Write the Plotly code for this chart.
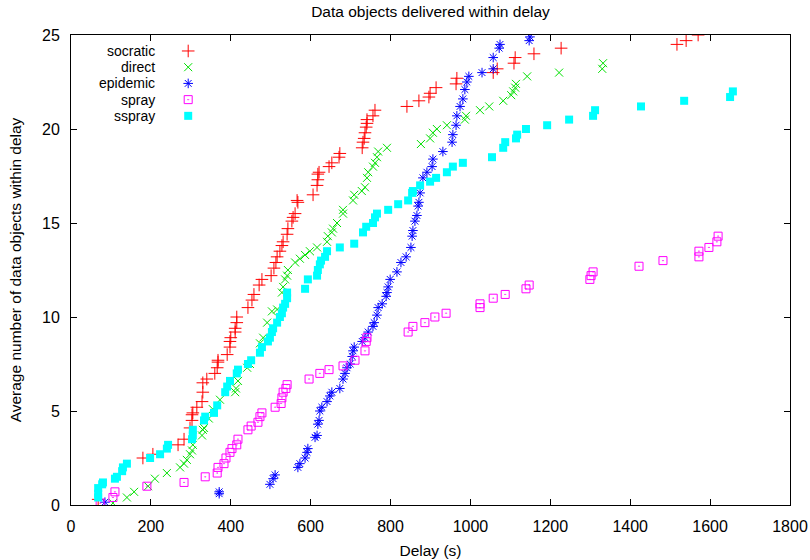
import plotly.graph_objects as go

# ---- data (delay in s, average number of data objects) ----
socratic_x = [68, 180, 205, 268, 283, 298, 303, 303, 305, 315, 328, 330, 330, 340, 360, 366, 368, 368,
              391, 398, 398, 400, 411, 411, 415, 415, 443, 453, 458, 471, 478, 501, 508, 513, 516, 523,
              528, 531, 541, 543, 553, 556, 561, 568, 566, 606, 616, 618, 618, 621, 646, 653, 671, 673,
              729, 731, 734, 736, 739, 741, 741, 756, 761, 841, 871, 896, 899, 914, 964, 966, 1057,
              1067, 1109, 1112, 1159, 1227, 1517, 1540, 1570]
socratic_y = [0.3, 2.5, 2.7, 3.2, 3.5, 4.1, 4.5, 4.8, 4.9, 5.2, 5.5, 6.0, 6.5, 6.7, 7.0, 7.3, 7.6, 7.7,
              8.0, 8.4, 8.7, 8.9, 9.2, 9.4, 9.7, 10.0, 10.5, 10.9, 11.2, 11.7, 12.0, 12.2, 12.6, 12.9,
              13.2, 13.5, 13.8, 14.0, 14.4, 14.7, 15.1, 15.3, 15.5, 16.1, 16.2, 16.5, 17.0, 17.3, 17.6,
              17.7, 18.0, 18.2, 18.5, 18.7, 19.0, 19.3, 19.5, 19.8, 20.1, 20.3, 20.5, 20.7, 21.0, 21.2,
              21.5, 21.7, 21.9, 22.2, 22.4, 22.7, 23.0, 23.2, 23.5, 23.8, 24.0, 24.3, 24.5, 24.7, 25.0]

direct_x = [105, 140, 158, 193, 210, 240, 273, 283, 290, 298, 303, 305, 328, 330, 333, 345, 355, 373,
            411, 413, 418, 441, 448, 473, 481, 491, 503, 516, 528, 531, 536, 541, 543, 561, 573, 586,
            598, 616, 641, 643, 653, 656, 666, 681, 681, 706, 709, 728, 736, 741, 744, 756, 761, 766,
            769, 791, 876, 899, 906, 916, 941, 986, 989, 1024, 1047, 1082, 1102, 1107, 1112, 1114,
            1142, 1222, 1330, 1332]
direct_y = [0.1, 0.4, 0.7, 1.0, 1.4, 1.7, 2.0, 2.2, 2.4, 2.7, 2.9, 3.2, 3.7, 4.0, 4.1, 4.6, 5.1, 5.6,
            6.0, 6.2, 6.6, 7.3, 7.5, 8.6, 8.9, 9.7, 10.3, 10.4, 11.3, 11.6, 12.0, 12.2, 12.5, 12.9,
            13.1, 13.3, 13.5, 13.7, 14.0, 14.3, 14.5, 14.7, 15.0, 15.5, 15.7, 16.2, 16.5, 16.7, 16.9,
            17.4, 17.7, 18.0, 18.2, 18.5, 18.8, 19.0, 19.2, 19.5, 19.8, 20.0, 20.2, 20.5, 20.7, 21.0,
            21.2, 21.5, 21.8, 22.0, 22.2, 22.4, 22.8, 23.0, 23.2, 23.5]

epidemic_x = [85, 371, 371, 498, 506, 511, 568, 573, 586, 591, 593, 611, 616, 618, 621, 623, 628, 641,
              648, 653, 673, 681, 686, 691, 699, 704, 706, 709, 729, 736, 744, 756, 759, 766, 769, 779,
              789, 791, 794, 799, 816, 826, 839, 851, 854, 856, 861, 866, 869, 871, 874, 881, 891, 904,
              906, 931, 954, 956, 964, 966, 974, 981, 986, 991, 996, 1029, 1057, 1057, 1072, 1074,
              1147, 1149]
epidemic_y = [0.15, 0.6, 0.7, 1.1, 1.4, 1.6, 2.0, 2.2, 2.5, 2.8, 3.0, 3.6, 3.7, 4.3, 4.5, 5.0, 5.2, 5.5,
              5.8, 6.0, 6.2, 6.7, 7.0, 7.3, 7.5, 7.9, 8.2, 8.4, 8.7, 8.9, 9.2, 9.5, 9.7, 10.1, 10.5,
              10.7, 11.1, 11.3, 11.6, 12.0, 12.4, 12.9, 13.2, 13.7, 14.3, 14.6, 15.1, 15.4, 15.9, 16.1,
              16.6, 17.4, 17.7, 18.0, 18.4, 18.8, 19.3, 19.7, 20.2, 20.7, 21.2, 21.6, 22.1, 22.5, 22.8,
              23.0, 23.2, 23.8, 24.3, 24.5, 24.7, 24.9]

spray_x = [73, 105, 110, 190, 283, 336, 366, 368, 383, 388, 398, 403, 415, 418, 443, 451, 468, 473, 478,
           511, 526, 528, 531, 538, 541, 596, 623, 646, 681, 711, 736, 739, 741, 844, 856, 886, 911, 939,
           1024, 1024, 1057, 1087, 1139, 1147, 1299, 1302, 1307, 1422, 1482, 1572, 1572, 1597, 1617,
           1620]
spray_y = [0.1, 0.4, 0.7, 1.0, 1.2, 1.5, 1.7, 2.0, 2.2, 2.5, 2.8, 3.0, 3.2, 3.5, 4.0, 4.2, 4.4, 4.7, 4.9,
           5.2, 5.4, 5.7, 6.0, 6.2, 6.4, 6.7, 7.0, 7.2, 7.4, 7.7, 8.2, 8.7, 8.9, 9.2, 9.5, 9.7, 10.0,
           10.2, 10.5, 10.7, 11.0, 11.2, 11.5, 11.7, 12.0, 12.2, 12.4, 12.7, 13.0, 13.2, 13.5, 13.7,
           14.0, 14.3]

sspray_x = [68, 68, 68, 78, 80, 110, 115, 128, 130, 140, 198, 223, 240, 243, 303, 305, 305, 333, 336,
            358, 366, 386, 391, 398, 415, 418, 443, 451, 473, 478, 493, 498, 503, 506, 516, 523, 528,
            531, 536, 541, 541, 586, 593, 616, 618, 623, 626, 636, 641, 673, 709, 731, 739, 756, 761,
            766, 794, 819, 844, 854, 856, 874, 899, 914, 941, 956, 981, 1054, 1082, 1087, 1114, 1117,
            1139, 1192, 1247, 1307, 1312, 1427, 1535, 1650, 1657]
sspray_y = [0.4, 0.6, 0.9, 1.1, 1.2, 1.4, 1.5, 1.8, 2.0, 2.2, 2.5, 2.7, 3.0, 3.2, 3.5, 3.7, 4.0, 4.5,
            4.7, 4.9, 5.3, 6.0, 6.3, 6.6, 7.0, 7.2, 7.5, 7.7, 8.1, 8.4, 8.7, 8.9, 9.2, 9.4, 9.7, 10.0,
            10.2, 10.5, 10.7, 11.0, 11.3, 11.5, 12.0, 12.2, 12.5, 12.8, 13.0, 13.2, 13.5, 13.7, 13.9,
            14.5, 14.8, 15.0, 15.3, 15.5, 15.7, 16.0, 16.2, 16.6, 16.7, 17.0, 17.2, 17.4, 17.7, 18.0,
            18.2, 18.5, 19.0, 19.3, 19.5, 19.7, 20.0, 20.2, 20.5, 20.7, 21.0, 21.2, 21.5, 21.7, 22.0]

series_names = ["socratic", "direct", "epidemic", "spray", "sspray"]
x_ticks = [0, 200, 400, 600, 800, 1000, 1200, 1400, 1600, 1800]
y_ticks = [0, 5, 10, 15, 20, 25]

FONT = "Liberation Sans, Arial, Helvetica, sans-serif"
FS = 15.5
TICK_FS = 16
LEG_FS = 14

styles = [
    dict(symbol="cross-thin-open", color="#ff0000", size=9, line=dict(width=1, color="#ff0000")),
    dict(symbol="x-thin-open", color="#00e000", size=8, line=dict(width=1, color="#00e000")),
    dict(symbol="asterisk-open", color="#0000ff", size=8, line=dict(width=1, color="#0000ff")),
    dict(symbol="square-open-dot", color="#ff00ff", size=8, line=dict(width=1, color="#ff00ff")),
    dict(symbol="square", color="#00ffff", size=8, line=dict(width=0)),
]
data = [(socratic_x, socratic_y), (direct_x, direct_y), (epidemic_x, epidemic_y),
        (spray_x, spray_y), (sspray_x, sspray_y)]

fig = go.Figure()
for name, (xs, ys), st in zip(series_names, data, styles):
    fig.add_trace(go.Scatter(x=xs, y=ys, mode="markers", name=name, marker=st,
                             showlegend=False, hovertemplate=name + ": %{x}, %{y}<extra></extra>"))

# legend (gnuplot style: names right-aligned, symbol to the right)
LEG_Y0 = 0.966
LEG_DY = 0.0345
for i, name in enumerate(series_names):
    fig.add_annotation(x=0.118, y=LEG_Y0 - i * LEG_DY, xref="paper", yref="paper", text=name,
                       showarrow=False, xanchor="right", yanchor="middle", borderpad=0,
                       font=dict(family=FONT, size=LEG_FS, color="black"))

fig.update_layout(
    width=810, height=560,
    margin=dict(l=71, r=20, t=35, b=55, autoexpand=False),
    paper_bgcolor="white", plot_bgcolor="white",
    font=dict(family=FONT, size=FS, color="black"),
    title=dict(text="Data objects delivered within delay", x=0.5, xanchor="center", xref="paper",
               y=1 - 12 / 560, yanchor="middle", yref="container", font=dict(family=FONT, size=FS)),
    showlegend=False,
)
fig.update_xaxes(range=[0, 1800], tickvals=x_ticks, ticks="inside", ticklen=6, tickcolor="black",
                 showline=True, linecolor="black", linewidth=1, mirror="allticks", showgrid=False,
                 zeroline=False, ticklabelstandoff=7, automargin=False,
                 title=dict(text="Delay (s)", standoff=10, font=dict(family=FONT, size=FS)),
                 tickfont=dict(family=FONT, size=TICK_FS))
fig.update_yaxes(range=[0, 25], tickvals=y_ticks, ticks="inside", ticklen=6, tickcolor="black",
                 showline=True, linecolor="black", linewidth=1, mirror="allticks", showgrid=False,
                 zeroline=False, ticklabelstandoff=7, automargin=False,
                 title=dict(text="Average number of data objects within delay", standoff=16,
                            font=dict(family=FONT, size=FS)),
                 tickfont=dict(family=FONT, size=TICK_FS))

# legend symbols on an overlaid unit axis
for i, st in enumerate(styles):
    fig.add_trace(go.Scatter(x=[0.163], y=[LEG_Y0 - i * LEG_DY], xaxis="x2", yaxis="y2", mode="markers",
                             marker=st, showlegend=False, hoverinfo="skip"))
fig.update_layout(
    xaxis2=dict(range=[0, 1], overlaying="x", visible=False, fixedrange=True),
    yaxis2=dict(range=[0, 1], overlaying="y", visible=False, fixedrange=True),
)

fig.write_html("out.html", config={"displayModeBar": False},
               post_script="document.body.style.margin='0';")
